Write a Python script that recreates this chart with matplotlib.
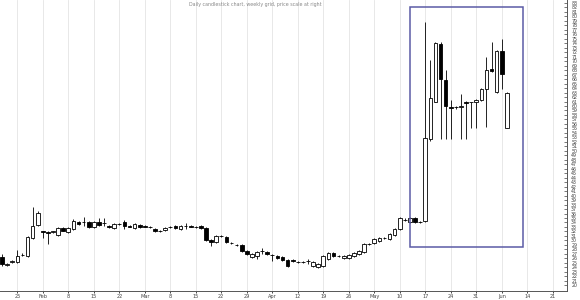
import matplotlib
matplotlib.use("Agg")
import matplotlib.pyplot as plt
from matplotlib.patches import Rectangle
import numpy as np

# daily candles (open, high, low, close)
opens = [26.3, 24.6, 25.2, 25.2, 26.8, 26.6, 30.6, 33.4, 32.0, 31.9,
         31.8, 31.2, 32.8, 31.9, 32.6, 34.1, 34.1, 34.1, 33.0, 34.1,
         33.9, 33.2, 32.8, 33.7, 34.1, 33.2, 32.8, 33.4, 33.2, 33.0,
         32.6, 32.1, 32.3, 33.0, 33.2, 32.6, 33.2, 33.2, 33.0, 33.2,
         32.8, 30.1, 29.7, 31.0, 30.8, 29.5, 29.0, 29.0, 27.7, 26.3,
         26.6, 27.7, 27.4, 26.8, 26.6, 26.3, 25.7, 25.7, 25.2, 25.2,
         25.4, 24.3, 24.1, 24.3, 25.9, 27.2, 26.6, 26.1, 26.1, 26.6,
         27.0, 27.4, 29.2, 29.4, 29.9, 30.6, 30.3, 31.2, 32.6, 34.6,
         34.1, 35.0, 34.1, 34.3, 52.6, 61.0, 73.9, 65.9, 59.7, 59.7,
         59.7, 61.0, 60.8, 60.8, 61.4, 63.7, 68.3, 63.2, 72.3, 55.2]
highs = [27.0, 25.0, 25.6, 27.9, 27.2, 31.0, 37.4, 36.5, 32.1, 32.0,
         32.2, 33.0, 33.0, 33.0, 34.8, 34.3, 35.2, 34.3, 34.3, 35.0,
         35.0, 33.4, 33.9, 33.9, 34.6, 33.4, 33.9, 33.7, 33.4, 33.2,
         32.8, 32.3, 33.0, 33.2, 33.4, 33.4, 33.9, 33.4, 33.2, 33.4,
         33.0, 30.3, 31.2, 31.2, 31.0, 29.7, 29.2, 29.2, 27.9, 27.2,
         27.7, 28.3, 27.7, 27.0, 26.8, 26.6, 25.9, 25.9, 25.4, 25.4,
         25.9, 25.4, 25.0, 26.8, 27.4, 27.4, 26.8, 26.8, 27.0, 27.4,
         27.9, 29.4, 29.4, 30.6, 30.8, 30.8, 31.6, 32.8, 35.2, 35.0,
         35.2, 35.2, 34.3, 78.8, 70.3, 74.3, 74.3, 68.1, 61.4, 60.1,
         62.6, 61.2, 61.0, 61.6, 64.1, 71.0, 74.3, 72.5, 75.0, 63.2]
lows = [24.3, 24.3, 25.0, 25.0, 26.6, 26.4, 30.4, 33.2, 30.6, 29.2,
        31.6, 31.0, 32.0, 31.7, 32.4, 33.5, 33.2, 32.8, 32.8, 33.2,
        33.2, 32.8, 32.6, 33.5, 32.6, 33.0, 32.6, 32.8, 33.0, 32.8,
        31.9, 31.9, 32.1, 32.8, 32.6, 32.4, 32.6, 33.0, 32.8, 32.6,
        29.9, 28.8, 29.4, 30.8, 29.4, 29.2, 28.8, 27.4, 26.8, 26.1,
        25.9, 27.0, 26.8, 25.4, 25.9, 25.4, 24.1, 25.2, 25.0, 25.0,
        24.8, 24.1, 23.9, 24.1, 25.7, 26.3, 26.3, 25.9, 25.9, 26.3,
        26.8, 27.2, 29.0, 29.2, 29.7, 30.3, 30.1, 31.0, 32.4, 34.3,
        33.9, 33.9, 33.9, 34.1, 52.3, 60.8, 52.6, 52.6, 52.6, 59.3,
        52.6, 52.6, 55.2, 55.2, 61.2, 55.4, 67.7, 63.0, 63.7, 55.0]
closes = [24.8, 24.8, 25.4, 26.6, 26.8, 30.8, 33.2, 36.1, 31.9, 31.7,
          32.0, 32.8, 32.1, 32.8, 34.3, 33.7, 34.0, 33.0, 34.1, 33.4,
          33.9, 33.0, 33.7, 33.7, 33.2, 33.1, 33.7, 33.0, 33.1, 32.9,
          32.1, 32.2, 32.8, 33.0, 32.8, 33.2, 33.2, 33.1, 32.9, 32.8,
          30.1, 29.7, 31.0, 30.9, 29.7, 29.4, 29.0, 27.7, 27.0, 27.0,
          27.4, 27.7, 27.0, 26.8, 26.1, 25.7, 24.3, 25.4, 25.2, 25.2,
          25.4, 25.2, 24.8, 26.6, 27.2, 26.6, 26.6, 26.6, 26.8, 27.2,
          27.7, 29.2, 29.2, 30.3, 30.6, 30.6, 31.4, 32.6, 35.0, 34.6,
          35.0, 34.1, 34.1, 52.8, 61.9, 74.1, 66.1, 59.9, 59.6, 59.7,
          60.1, 60.6, 60.8, 61.4, 63.9, 68.1, 67.9, 72.3, 67.2, 62.8]

week_labels = ["25", "Feb", "8", "15", "22", "Mar", "8", "15", "22", "29", "Apr",
               "12", "19", "26", "May", "10", "17", "24", "31", "Jun", "14", "21"]
price_labels = list(range(83, 19, -1))

# highlighted breakout range
box_first, box_last = 80, 102.2
box_low, box_high = 28.6, 82.1

o = np.array(opens); h = np.array(highs); l = np.array(lows); c = np.array(closes)
x = np.arange(len(o))
up = c >= o

fig = plt.figure(figsize=(5.8, 3.0), dpi=100)
ax = fig.add_axes([0.0, 0.03, 0.9776, 0.97])

ax.vlines(x, l, h, color="black", linewidth=0.6, zorder=2)
ax.bar(x[up], c[up] - o[up], bottom=o[up], width=0.72, facecolor="white",
       edgecolor="black", linewidth=0.6, zorder=3)
ax.bar(x[~up], o[~up] - c[~up], bottom=c[~up], width=0.72, facecolor="black",
       edgecolor="black", linewidth=0.6, zorder=3)

ax.add_patch(Rectangle((box_first, box_low), box_last - box_first, box_high - box_low,
                       fill=False, edgecolor="#5b5ba6", linewidth=1.1, zorder=4))

ax.set_xlim(-0.4, 110.8)
ax.set_ylim(18.7, 83.67)

ticks = np.arange(3, 3 + 5 * len(week_labels), 5)
ax.set_xticks(ticks)
ax.set_xticklabels(week_labels, fontsize=3.6, color="#444444")
ax.grid(axis="x", color="#e4e4e4", linewidth=0.6, zorder=0)

ax.yaxis.tick_right()
ax.set_yticks(price_labels)
ax.set_yticklabels([str(v) for v in price_labels], fontsize=3.4, color="#444444")
ax.tick_params(axis="y", direction="in", length=2, width=0.5, pad=3, colors="#444444")
ax.tick_params(axis="x", length=1.5, width=0.5, pad=1)

for side in ["top", "left"]:
    ax.spines[side].set_visible(False)
ax.spines["right"].set_linewidth(0.7)
ax.spines["bottom"].set_linewidth(0.7)
ax.spines["right"].set_color("#555555")
ax.spines["bottom"].set_color("#555555")

fig.text(0.44, 0.992, "Daily candlestick chart, weekly grid, price scale at right",
         fontsize=3.4, color="#888888", ha="center", va="top")

fig.savefig("out.png", dpi=100)
